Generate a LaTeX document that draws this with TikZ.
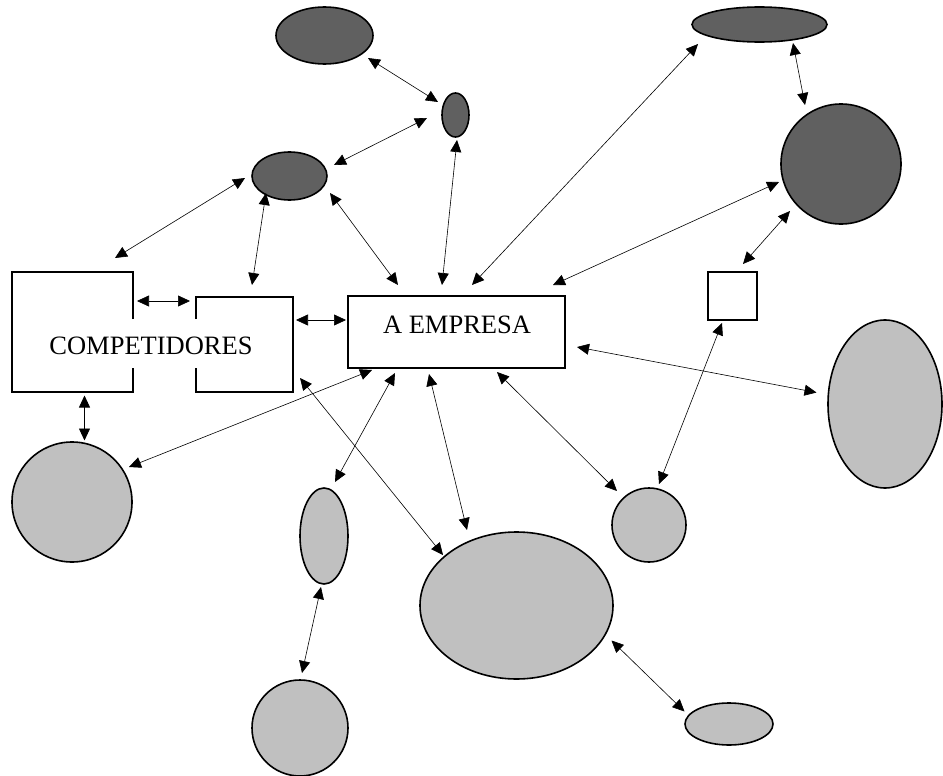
\documentclass[tikz,border=0pt]{standalone}
\usepackage{fontspec}
\setmainfont{Liberation Serif}
\usetikzlibrary{shapes.geometric,arrows.meta}
\definecolor{darkfill}{HTML}{606060}
\definecolor{lightfill}{HTML}{C0C0C0}
\tikzset{
  shp/.style={draw=black, line width=1.6pt, inner sep=0pt, outer sep=0pt},
  dk/.style={shp, ellipse, fill=darkfill},
  lt/.style={shp, ellipse, fill=lightfill},
  bx/.style={shp, rectangle, fill=white},
  ghost/.style={rectangle, inner sep=0pt, outer sep=0pt},
  lbl/.style={font=\fontsize{26.5}{30}\selectfont, inner sep=0pt, anchor=base},
  arr/.style={line width=0.6pt, {Triangle[length=12pt,width=11pt]}-{Triangle[length=12pt,width=11pt]}}
}
\begin{document}
\begin{tikzpicture}[x=1pt,y=-1pt]
\useasboundingbox (0,0) rectangle (943,776);
% dark ellipses
\node[dk, minimum width=97pt, minimum height=57pt] (e1) at (324.5,35.5) {};
\node[dk, minimum width=27pt, minimum height=44pt] (e2) at (455.5,115) {};
\node[dk, minimum width=75pt, minimum height=48pt] (e3) at (289.5,176) {};
\node[dk, minimum width=135pt, minimum height=35pt] (e4) at (759.5,24.5) {};
\node[dk, minimum width=120pt, minimum height=120pt] (c5) at (841,164) {};
% boxes
\node[bx, minimum width=49pt, minimum height=48pt] (sq) at (732.5,296) {};
\node[bx, minimum width=217pt, minimum height=72pt] (emp) at (456.5,332) {};
\node[lbl] (emptxt) at (457,333) {A EMPRESA};
\node[ghost, minimum width=121pt, minimum height=120pt] (comp1) at (72.5,332) {};
\node[ghost, minimum width=97pt, minimum height=95pt] (comp2) at (244.5,344.5) {};
\draw[line width=1.6pt] (133,319) -- (133,272) -- (12,272) -- (12,392) -- (133,392) -- (133,368);
\draw[line width=1.6pt] (196,319) -- (196,297) -- (293,297) -- (293,392) -- (196,392) -- (196,368);
\node[lbl] (comptxt) at (151,354) {COMPETIDORES};
% light ellipses
\node[lt, minimum width=120pt, minimum height=120pt] (c6) at (72,502) {};
\node[lt, minimum width=48pt, minimum height=96pt] (e7) at (324,536) {};
\node[lt, minimum width=96pt, minimum height=96pt] (c8) at (300,728) {};
\node[lt, minimum width=193pt, minimum height=147pt] (e9) at (516.5,605.5) {};
\node[lt, minimum width=74pt, minimum height=74pt] (c10) at (649,525) {};
\node[lt, minimum width=114pt, minimum height=168pt] (e11) at (885,404) {};
\node[lt, minimum width=88pt, minimum height=42pt] (e12) at (729,724) {};
% connectors
\draw[arr] ([shift={(43.5,22.5)}]e1.center) -- ([shift={(-17.5,-13)}]e2.center);
\draw[arr] ([shift={(-28.5,3)}]e2.center) -- ([shift={(44.5,-11)}]e3.center);
\draw[arr] ([shift={(-44.5,2)}]e3.center) -- ([shift={(42.5,-74)}]comp1.center);
\draw[arr] ([shift={(-23.5,17)}]e3.center) -- ([shift={(7.5,-59.5)}]comp2.center);
\draw[arr] ([shift={(40.5,17)}]e3.center) -- ([shift={(-58.5,-47)}]emp.center);
\draw[arr] ([shift={(1.5,25)}]e2.center) -- ([shift={(-14.5,-47)}]emp.center);
\draw[arr] ([shift={(-61.5,19.5)}]e4.center) -- ([shift={(15.5,-47)}]emp.center);
\draw[arr] ([shift={(33.5,18.5)}]e4.center) -- ([shift={(-36,-59)}]c5.center);
\draw[arr] ([shift={(-62,18)}]c5.center) -- ([shift={(96.5,-47)}]emp.center);
\draw[arr] ([shift={(-51,47)}]c5.center) -- ([shift={(10.5,-32)}]sq.center);
\draw[arr] ([shift={(64.5,-31)}]comp1.center) -- ([shift={(-54.5,-43.5)}]comp2.center);
\draw[arr] ([shift={(51.5,-24.5)}]comp2.center) -- ([shift={(-110.5,-12)}]emp.center);
\draw[arr] ([shift={(12,63.5)}]comp1.center) -- ([shift={(12.5,-61.5)}]c6.center);
\draw[arr] ([shift={(-84.5,38)}]emp.center) -- ([shift={(57,-35)}]c6.center);
\draw[arr] ([shift={(-61.5,41)}]emp.center) -- ([shift={(11,-54)}]e7.center);
\draw[arr] ([shift={(55.5,33.5)}]comp2.center) -- ([shift={(-73.5,-50.5)}]e9.center);
\draw[arr] ([shift={(-27.5,42)}]emp.center) -- ([shift={(-49.5,-75.5)}]e9.center);
\draw[arr] ([shift={(40.5,40)}]emp.center) -- ([shift={(-32,-34)}]c10.center);
\draw[arr] ([shift={(120.5,15)}]emp.center) -- ([shift={(-68.5,-11.5)}]e11.center);
\draw[arr] ([shift={(-10.5,27)}]sq.center) -- ([shift={(10,-41)}]c10.center);
\draw[arr] ([shift={(-3,51)}]e7.center) -- ([shift={(2,-55)}]c8.center);
\draw[arr] ([shift={(95,35)}]e9.center) -- ([shift={(-44.5,-12.5)}]e12.center);
\end{tikzpicture}
\end{document}
